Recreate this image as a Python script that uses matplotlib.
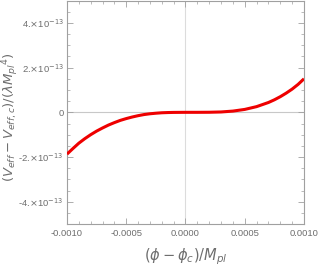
import matplotlib
matplotlib.use("Agg")
import matplotlib.pyplot as plt
from matplotlib.ticker import MultipleLocator, FixedLocator

# values (x in 1e-3 Mpl, y in 1e-13)
phi = [-1.0, -0.95, -0.9, -0.85, -0.8, -0.75, -0.7, -0.65, -0.6, -0.55, -0.5,
       -0.45, -0.4, -0.35, -0.3, -0.25, -0.2, -0.15, -0.1, 0.0,
       0.1, 0.2, 0.3, 0.4, 0.5, 0.6, 0.7, 0.75, 0.8, 0.85, 0.9, 0.95, 1.0]
veff = [-1.87, -1.62, -1.38, -1.18, -1.00, -0.84, -0.70, -0.57, -0.46, -0.36, -0.28,
        -0.21, -0.15, -0.10, -0.065, -0.04, -0.02, -0.01, -0.004, 0.0,
        0.0, 0.003, 0.016, 0.055, 0.13, 0.255, 0.44, 0.56, 0.70, 0.86, 1.04, 1.25, 1.50]
x = [v * 1e-3 for v in phi]
y = [v * 1e-13 for v in veff]

xticks = [-0.0010, -0.0005, 0.0, 0.0005, 0.0010]
xticklabels = ["-0.0010", "-0.0005", "0.0000", "0.0005", "0.0010"]
yticks = [-4e-13, -2e-13, 0, 2e-13, 4e-13]
yticklabels = [r"-4.$\times$10$^{-13}$", r"-2.$\times$10$^{-13}$", "0",
               r"2.$\times$10$^{-13}$", r"4.$\times$10$^{-13}$"]

plt.rcParams['font.family'] = ['Liberation Sans Narrow', 'Liberation Sans', 'DejaVu Sans']
plt.rcParams['mathtext.fontset'] = 'custom'
plt.rcParams['mathtext.rm'] = 'Liberation Sans Narrow'
plt.rcParams['mathtext.it'] = 'Liberation Sans Narrow:italic'

gray = '#6e6e6e'
framec = '#a0a0a0'

fig = plt.figure(figsize=(3.19, 2.77), dpi=100)
ax = fig.add_axes([0.21, 0.191, 0.743, 0.807])

ax.axhline(0, color='#c8c8c8', lw=0.8, zorder=1)
ax.axvline(0, color='#dcdcdc', lw=0.8, zorder=1)
ax.plot(x, y, color='#ee0000', lw=2.2, zorder=3, solid_capstyle='butt')

ax.set_xlim(-0.001, 0.001)
ax.set_ylim(-5e-13, 5e-13)
ax.xaxis.set_major_locator(FixedLocator(xticks))
ax.set_xticklabels(xticklabels)
ax.xaxis.set_minor_locator(MultipleLocator(0.0001))
ax.yaxis.set_major_locator(FixedLocator(yticks))
ax.set_yticklabels(yticklabels)
ax.yaxis.set_minor_locator(MultipleLocator(0.5e-13))

ax.tick_params(which='both', direction='in', top=True, right=True, colors=framec,
               labelcolor=gray, labelsize=6.8)
ax.tick_params(axis='y', which='major', pad=2.5)
ax.tick_params(which='major', length=4, width=0.6)
ax.tick_params(which='minor', length=2, width=0.5)
for s in ax.spines.values():
    s.set_color(framec)
    s.set_linewidth(0.8)

ax.set_xlabel(r"$(\phi - \phi_c)/M_{pl}$", color=gray, fontsize=10.5, labelpad=6)
# y label placed by hand, as in the reference
fig.text(11 / 319, 1 - 117 / 277, r"$(V_{eff} - V_{eff,c})/(\lambda M_{pl}{}^4)$",
         color=gray, fontsize=9.5, rotation=90, ha='center', va='center')

fig.savefig("out.png", dpi=100)
